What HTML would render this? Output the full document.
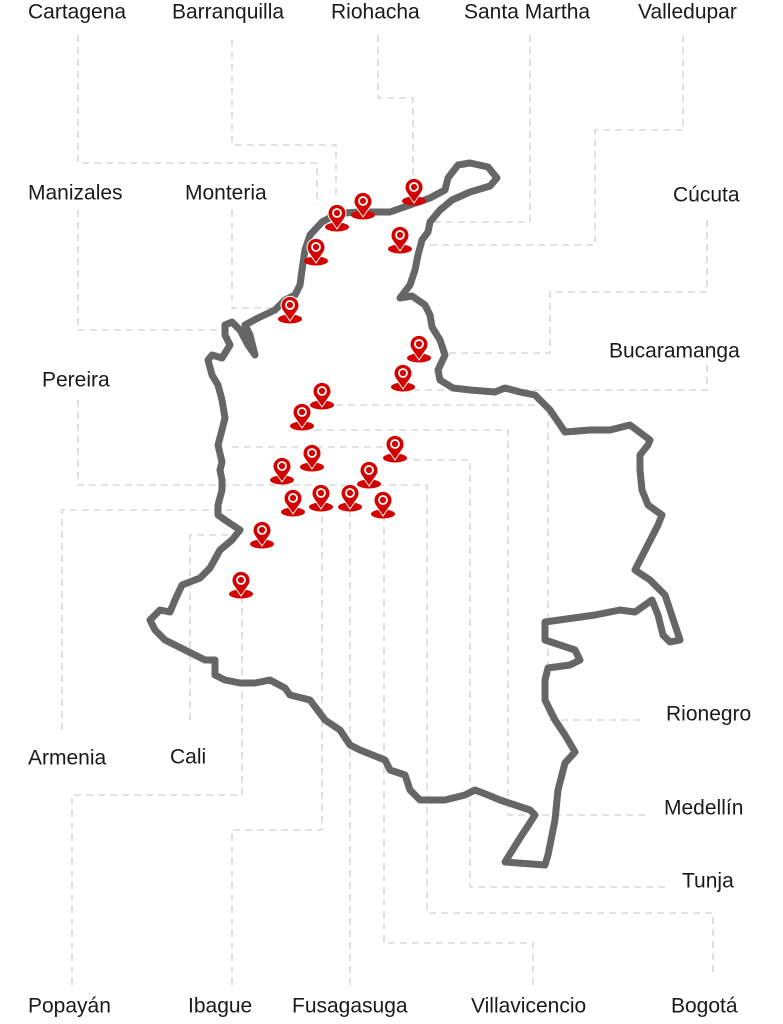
<!DOCTYPE html>
<html><head><meta charset="utf-8"><style>
html,body{margin:0;padding:0;background:#fff;}
svg{display:block}
text{font-family:"Liberation Sans",sans-serif;font-size:21px;fill:#1a1a1a;dominant-baseline:central}
</style></head><body>
<svg width="783" height="1024" viewBox="0 0 783 1024" xmlns="http://www.w3.org/2000/svg">
<defs>
<g id="pin">
<ellipse cx="0" cy="13" rx="12" ry="4.5" fill="#d40000"/>
<path d="M0 15 L-7 5 A9 9 0 1 1 7 5 Z" fill="#d40000" stroke="#fff" stroke-width="1"/>
<circle cx="0" cy="-1" r="4" fill="none" stroke="#fff" stroke-width="1.8"/>
</g>
</defs>
<g fill="none" stroke="#d0d0d0" stroke-width="1.3" stroke-dasharray="7,5">
<polyline points="78,35 78,163 317,163 317,205"/>
<polyline points="232,40 232,145 336,145 336,200"/>
<polyline points="378,35 378,98 413,98 413,180"/>
<polyline points="530,35 530,222 428,222"/>
<polyline points="683,35 683,130 595,130 595,245 420,245"/>
<polyline points="707,220 707,292 550,292 550,353 440,353"/>
<polyline points="707,365 707,390 415,390"/>
<polyline points="78,210 78,330 240,330"/>
<polyline points="232,210 232,308 275,308"/>
<polyline points="78,400 78,485 427,485 427,913 713,913 713,975"/>
<polyline points="62,730 62,510 232,510"/>
<polyline points="190,720 190,535 240,535"/>
<polyline points="72,985 72,795 242,795 242,582"/>
<polyline points="232,985 232,830 322,830 322,495"/>
<polyline points="350,985 350,500"/>
<polyline points="533,985 533,943 384,943 384,502"/>
<polyline points="665,887 470,887 470,460 395,460"/>
<polyline points="645,815 508,815 508,430 312,430"/>
<polyline points="640,720 548,720 548,405 322,405"/>
<polyline points="232,447 395,447"/>
</g>
<polygon fill="none" stroke="#666" stroke-width="7" stroke-linejoin="round" points="458,165 470,163 488,167 497,178 490,186 470,192 452,200 440,210 430,222 428,232 422,240 418,255 415,270 410,285 400,298 412,296 425,305 430,315 432,327 440,340 445,355 438,370 440,380 453,388 470,390 495,392 505,388 520,392 535,395 550,410 565,432 590,430 610,430 630,425 650,440 648,445 640,455 640,470 642,490 648,505 662,515 658,525 635,570 650,580 665,595 680,640 670,642 663,635 658,615 652,600 645,605 635,612 620,610 595,615 545,622 545,640 560,645 575,650 580,660 570,665 548,668 545,680 545,700 555,720 565,735 575,752 565,763 558,790 555,820 548,855 545,865 505,862 520,838 535,815 530,810 515,805 500,800 488,795 475,790 465,795 445,800 420,800 410,790 405,775 390,770 385,760 360,750 350,745 340,730 325,720 310,700 290,695 285,688 270,680 255,683 240,683 225,680 215,675 215,660 205,660 185,650 165,640 155,630 150,620 160,610 170,612 175,600 182,585 200,578 210,568 220,550 232,540 240,530 225,520 218,515 218,505 222,490 222,480 220,470 222,462 218,445 222,430 225,418 222,400 218,385 212,375 208,360 212,355 222,358 230,345 225,335 225,325 232,322 240,330 248,345 255,355 250,335 245,325 258,318 275,310 285,300 295,295 300,285 302,270 305,250 310,235 322,222 335,215 345,213 358,212 370,212 390,212 410,205 430,198 445,190 448,178"/>
<g>
<use href="#pin" x="414" y="188"/><use href="#pin" x="363" y="202"/><use href="#pin" x="337" y="214"/>
<use href="#pin" x="400" y="236"/><use href="#pin" x="316" y="248"/><use href="#pin" x="290" y="306"/>
<use href="#pin" x="419" y="345"/><use href="#pin" x="403" y="374"/><use href="#pin" x="322" y="392"/>
<use href="#pin" x="302" y="413"/><use href="#pin" x="395" y="445"/><use href="#pin" x="312" y="454"/>
<use href="#pin" x="282" y="467"/><use href="#pin" x="369" y="471"/><use href="#pin" x="293" y="499"/>
<use href="#pin" x="321" y="494"/><use href="#pin" x="350" y="494"/><use href="#pin" x="383" y="501"/>
<use href="#pin" x="262" y="531"/><use href="#pin" x="241" y="581"/>
</g>
<text x="28" y="12">Cartagena</text>
<text x="172" y="12">Barranquilla</text>
<text x="331" y="12">Riohacha</text>
<text x="464" y="12">Santa Martha</text>
<text x="638" y="12">Valledupar</text>
<text x="28" y="193">Manizales</text>
<text x="185" y="193">Monteria</text>
<text x="673" y="195">Cúcuta</text>
<text x="609" y="351">Bucaramanga</text>
<text x="42" y="380">Pereira</text>
<text x="666" y="714">Rionegro</text>
<text x="28" y="758">Armenia</text>
<text x="170" y="757">Cali</text>
<text x="664" y="808">Medellín</text>
<text x="682" y="881">Tunja</text>
<text x="28" y="1006">Popayán</text>
<text x="188" y="1006">Ibague</text>
<text x="292" y="1006">Fusagasuga</text>
<text x="471" y="1006">Villavicencio</text>
<text x="671" y="1006">Bogotá</text>
</svg>
</body></html>
